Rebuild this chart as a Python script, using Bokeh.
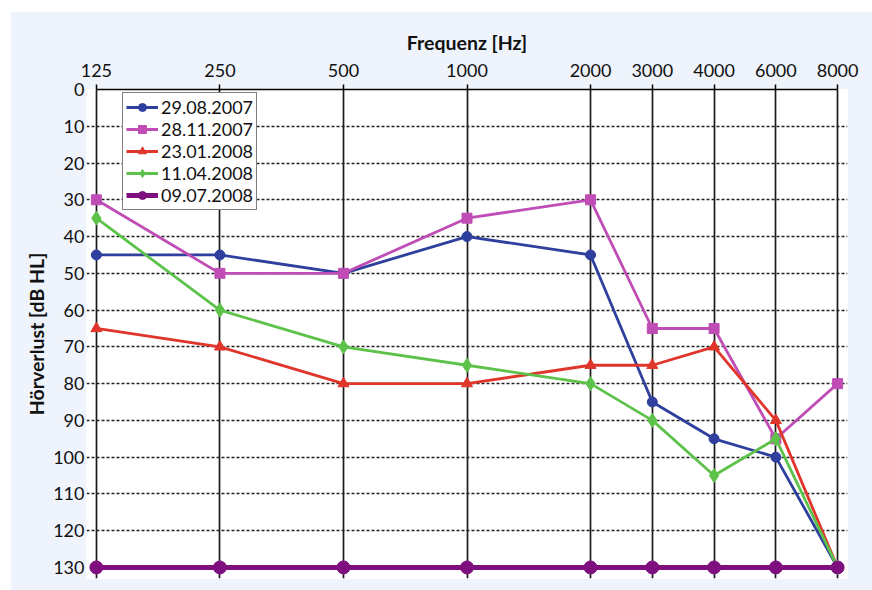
import math
from bokeh.plotting import figure
from bokeh.models import Range1d, FixedTicker, Legend, LegendItem
from bokeh.embed import file_html
from bokeh.resources import INLINE

# ---- data ----
freqs = [125, 250, 500, 1000, 2000, 3000, 4000, 6000, 8000]
freq_labels = ["125", "250", "500", "1000", "2000", "3000", "4000", "6000", "8000"]
dates = ["29.08.2007", "28.11.2007", "23.01.2008", "11.04.2008", "09.07.2008"]
s_29082007 = [45, 45, 50, 40, 45, 85, 95, 100, 130]
s_28112007 = [30, 50, 50, 35, 30, 65, 65, 95, 80]
s_23012008 = [65, 70, 80, 80, 75, 75, 70, 90, 130]
s_11042008 = [35, 60, 70, 75, 80, 90, 105, 95, 130]
s_09072008 = [130, 130, 130, 130, 130, 130, 130, 130, 130]
db_ticks = list(range(0, 131, 10))

series = [s_29082007, s_28112007, s_23012008, s_11042008, s_09072008]
colors = ["#2E3F9E", "#BF4DB5", "#E0352B", "#5DC24A", "#7F0F7F"]
markers = ["circle", "square", "triangle", "diamond", "circle"]
msizes = [10, 10, 11, 14, 13]
lwidths = [2.8, 2.8, 2.8, 2.8, 5]

# audiogram positions: octaves integer, half-octave frequencies in between
pos = [round(2 * math.log2(f / 125)) / 2 for f in freqs]

FONT = "Lato"
PAD = 0.08

p = figure(width=862, height=579, output_backend="svg", toolbar_location=None,
           x_axis_location="above",
           x_range=Range1d(min(pos) - PAD, max(pos) + PAD),
           y_range=Range1d(max(db_ticks) + 3, min(db_ticks)),
           min_border_left=76, min_border_right=25, min_border_top=78, min_border_bottom=12,
           background_fill_color="white", border_fill_color="#EEF3FC")
p.margin = (11, 0, 0, 10)
p.outline_line_color = None

# x axis
xa = p.xaxis[0]
xa.ticker = FixedTicker(ticks=pos)
xa.major_label_overrides = {x: l for x, l in zip(pos, freq_labels)}
xa.axis_label = "Frequenz [Hz]"
xa.bounds = (min(pos), max(pos))
ya = p.yaxis[0]
ya.ticker = FixedTicker(ticks=db_ticks)
ya.axis_label = "Hörverlust [dB HL]"

for ax in (xa, ya):
    ax.minor_tick_line_color = None
    ax.major_tick_in = 0
    ax.major_tick_out = 5
    ax.major_tick_line_color = "black"
    ax.major_tick_line_width = 1.5
    ax.axis_line_color = "black"
    ax.axis_line_width = 1.5
    ax.major_label_text_font = FONT
    ax.major_label_text_font_size = "18px"
    ax.major_label_text_color = "#111111"
    ax.axis_label_text_font = FONT
    ax.axis_label_text_font_size = "19.5px"
    ax.axis_label_text_font_style = "bold"
    ax.axis_label_text_color = "#111111"
xa.major_label_standoff = 8
xa.axis_label_standoff = 7
ya.axis_line_color = None
ya.major_tick_out = 0
ya.major_label_standoff = 2
ya.axis_label_standoff = 2

# grids
p.xgrid.ticker = FixedTicker(ticks=pos)
p.xgrid.grid_line_color = "#1a1a1a"
p.xgrid.grid_line_width = 1.7
p.xgrid.bounds = (min(db_ticks), max(db_ticks))
p.ygrid.ticker = FixedTicker(ticks=db_ticks[1:-1])
p.ygrid.grid_line_color = "#222222"
p.ygrid.grid_line_width = 1.5
p.ygrid.grid_line_dash = "3 2"
p.ygrid.bounds = (min(pos) - PAD / 2, max(pos))

items = []
for name, vals, c, m, ms, lw in zip(dates, series, colors, markers, msizes, lwidths):
    r1 = p.line(pos, vals, line_color=c, line_width=lw)
    r2 = p.scatter(pos, vals, marker=m, size=ms, fill_color=c, line_color=c)
    items.append(LegendItem(label=name, renderers=[r1, r2]))

legend = Legend(items=items, location=(36, 368))
legend.label_text_font = FONT
legend.label_text_font_size = "18px"
legend.label_text_color = "#111111"
legend.label_height = 20
legend.glyph_height = 20
legend.glyph_width = 32
legend.label_standoff = 3
legend.spacing = 0
legend.padding = 3
legend.margin = 0
legend.border_line_color = "black"
legend.border_line_width = 1.2
legend.background_fill_color = "white"
legend.background_fill_alpha = 1.0
p.add_layout(legend, "center")

open("out.html", "w").write(file_html(p, INLINE))
